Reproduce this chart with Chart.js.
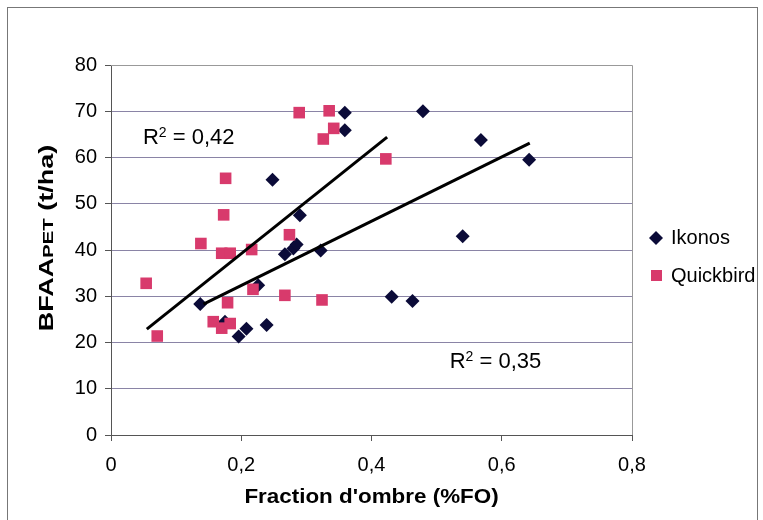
<!DOCTYPE html>
<html>
<head>
<meta charset="utf-8">
<script src="https://cdn.jsdelivr.net/npm/chart.js@4.4.1/dist/chart.umd.min.js"></script>
<style>
  html, body { margin: 0; padding: 0; background: #fff; }
  #wrap { width: 763px; height: 520px; }
</style>
</head>
<body>
<div id="wrap"><canvas id="chart" width="763" height="520"></canvas></div>
<script>
// Ikonos (losanges)
const ikonosX = [0.137, 0.175, 0.196, 0.208, 0.226, 0.239, 0.248, 0.267, 0.280, 0.285, 0.290,
                 0.322, 0.359, 0.359, 0.431, 0.463, 0.479, 0.540, 0.568, 0.642];
const ikonosY = [28.3, 24.5, 21.3, 23.0, 32.4, 23.8, 55.2, 39.1, 40.3, 41.2, 47.5,
                 39.9, 69.7, 65.9, 29.9, 29.0, 70.0, 43.0, 63.8, 59.5];

// Quickbird (carrés)
const quickbirdX = [0.054, 0.071, 0.138, 0.157, 0.170, 0.183, 0.179, 0.170, 0.183, 0.173, 0.176,
                    0.216, 0.218, 0.267, 0.274, 0.289, 0.324, 0.326, 0.335, 0.342, 0.422];
const quickbirdY = [32.8, 21.4, 41.4, 24.5, 23.1, 24.1, 28.6, 39.3, 39.3, 47.6, 55.5,
                    40.1, 31.5, 30.2, 43.3, 69.7, 29.2, 64.0, 70.1, 66.3, 59.7];

// Droites de tendance (extrémités)
const ikonosTrendX = [0.142, 0.643];
const ikonosTrendY = [28.3, 63.1];
const quickbirdTrendX = [0.055, 0.424];
const quickbirdTrendY = [22.9, 64.4];

// Ticks
const xTicks = [0, 0.2, 0.4, 0.6, 0.8];
const yTicks = [0, 10, 20, 30, 40, 50, 60, 70, 80];

const navy = '#0b0b38';
const pink = '#d83a6c';
const FONT = "'Liberation Sans', Arial, sans-serif";

function toPoints(xs, ys) {
    return xs.map((x, i) => ({ x: x, y: ys[i] }));
}

// Textes, légende et cadres dessinés à la main
const decorPlugin = {
    id: 'decor',
    afterDraw(chart) {
        const c = chart.ctx;
        const a = chart.chartArea;
        const xs = chart.scales.x, ys = chart.scales.y;
        c.save();

        // cadre extérieur
        c.strokeStyle = '#777';
        c.lineWidth = 1;
        c.strokeRect(7.5, 7.5, 750, 530);

        // cadre de la zone de tracé (haut et droite)
        c.strokeStyle = '#999';
        c.beginPath();
        c.moveTo(a.left, a.top + 0.5);
        c.lineTo(a.right + 0.5, a.top + 0.5);
        c.lineTo(a.right + 0.5, a.bottom);
        c.stroke();

        // R²
        c.fillStyle = '#000';
        c.textBaseline = 'middle';
        c.textAlign = 'left';
        function drawR2(x, y, txt) {
            let px = xs.getPixelForValue(x), py = ys.getPixelForValue(y);
            c.font = '22px ' + FONT;
            c.fillText('R', px, py);
            px += c.measureText('R').width;
            c.font = '14px ' + FONT;
            c.fillText('2', px, py - 5);
            px += c.measureText('2').width;
            c.font = '22px ' + FONT;
            c.fillText(' = ' + txt, px, py);
        }
        drawR2(0.049, 64.2, '0,42');
        drawR2(0.520, 15.8, '0,35');

        // légende
        c.font = '20px ' + FONT;
        c.fillStyle = navy;
        c.beginPath();
        c.moveTo(656, 231); c.lineTo(663, 238); c.lineTo(656, 245); c.lineTo(649, 238);
        c.closePath(); c.fill();
        c.fillStyle = pink;
        c.fillRect(651, 270, 11, 11);
        c.fillStyle = '#000';
        c.fillText('Ikonos', 671, 238);
        c.fillText('Quickbird', 671, 276);

        // titre axe X
        c.font = 'bold 20px ' + FONT;
        c.textAlign = 'center';
        c.save();
        c.translate((a.left + a.right) / 2, 497);
        c.scale(1.12, 1);
        c.fillText("Fraction d'ombre (%FO)", 0, 0);
        c.restore();

        // titre axe Y avec PET en petites capitales
        c.save();
        c.translate(46, 238);
        c.rotate(-Math.PI / 2);
        c.scale(1.35, 1);
        const parts = [['BFAA', 20], ['PET', 15], [' (t/ha)', 20]];
        let total = 0;
        parts.forEach(p => { c.font = 'bold ' + p[1] + 'px ' + FONT; total += c.measureText(p[0]).width; });
        let px = -total / 2;
        c.textAlign = 'left';
        c.textBaseline = 'alphabetic';
        parts.forEach(p => {
            c.font = 'bold ' + p[1] + 'px ' + FONT;
            c.fillText(p[0], px, 7);
            px += c.measureText(p[0]).width;
        });
        c.restore();

        c.restore();
    }
};

const chart = new Chart(document.getElementById('chart'), {
    type: 'scatter',
    data: {
        datasets: [
            {
                label: 'Tendance Ikonos',
                type: 'line',
                data: toPoints(ikonosTrendX, ikonosTrendY),
                borderColor: '#000',
                borderWidth: 3,
                pointRadius: 0,
                fill: false,
                order: 0
            },
            {
                label: 'Tendance Quickbird',
                type: 'line',
                data: toPoints(quickbirdTrendX, quickbirdTrendY),
                borderColor: '#000',
                borderWidth: 3,
                pointRadius: 0,
                fill: false,
                order: 0
            },
            {
                label: 'Quickbird',
                data: toPoints(quickbirdX, quickbirdY),
                pointStyle: 'rect',
                pointRadius: 8.2,
                pointBackgroundColor: pink,
                pointBorderWidth: 0,
                order: 1
            },
            {
                label: 'Ikonos',
                data: toPoints(ikonosX, ikonosY),
                pointStyle: 'rectRot',
                pointRadius: 7,
                pointBackgroundColor: navy,
                pointBorderWidth: 0,
                order: 2
            }
        ]
    },
    options: {
        responsive: false,
        animation: false,
        devicePixelRatio: 1,
        layout: { padding: { top: 65, right: 131, bottom: 0, left: 0 } },
        plugins: {
            legend: { display: false },
            tooltip: { enabled: false }
        },
        scales: {
            x: {
                type: 'linear',
                min: 0,
                max: 0.8,
                afterBuildTicks: s => { s.ticks = xTicks.map(v => ({ value: v })); },
                afterFit: s => { s.height = 85; },
                ticks: {
                    color: '#000',
                    font: { family: FONT, size: 20 },
                    padding: 12,
                    callback: v => String(v).replace('.', ',')
                },
                grid: { drawOnChartArea: false, drawTicks: true, tickLength: 6, color: '#555' },
                border: { display: true, color: '#555', width: 1 }
            },
            y: {
                min: 0,
                max: 80,
                afterBuildTicks: s => { s.ticks = yTicks.map(v => ({ value: v })); },
                afterFit: s => { s.width = 111; },
                ticks: {
                    color: '#000',
                    font: { family: FONT, size: 20 },
                    padding: 8
                },
                grid: { color: '#8a84a6', tickColor: '#555', tickLength: 6, lineWidth: 1 },
                border: { display: true, color: '#555', width: 1 }
            }
        }
    },
    plugins: [decorPlugin]
});
</script>
</body>
</html>
